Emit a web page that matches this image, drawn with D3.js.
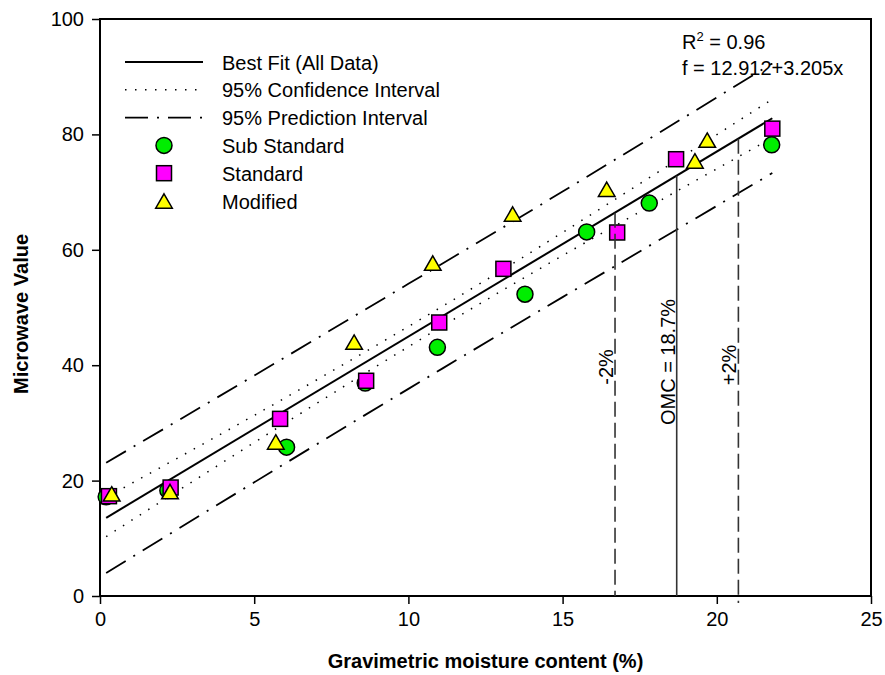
<!DOCTYPE html>
<html>
<head>
<meta charset="utf-8">
<script src="https://cdn.jsdelivr.net/npm/d3@7"></script>
<style>
  body { margin: 0; background: #fff; }
  text { font-family: Arial, "Liberation Sans", sans-serif; }
</style>
</head>
<body>
<script>
// data
var subX = [0.2, 2.2, 6.05, 8.6, 10.94, 13.78, 15.78, 17.81, 21.78];
var subY = [17.2, 18.3, 25.8, 36.9, 43.1, 52.3, 63.1, 68.1, 78.2];

var stdX = [0.29, 2.29, 5.84, 8.63, 11.0, 13.08, 16.77, 18.68, 21.8];
var stdY = [17.3, 18.8, 30.7, 37.3, 47.4, 56.7, 63.0, 75.7, 81.0];

var modX = [0.38, 2.27, 5.7, 8.24, 10.79, 13.38, 16.43, 19.29, 19.69];
var modY = [17.7, 18.1, 26.7, 44.0, 57.7, 66.2, 70.5, 75.4, 79.0];

// best fit line end points
var fitX = [0.2, 21.8];
var fitY = [13.55, 82.8];

// confidence / prediction bands read at a few x positions
var bandX   = [0.2, 5, 10, 15, 21.8];
var ciUpper = [17.1, 31.3, 46.7, 63.0, 86.1];
var ciLower = [10.3, 26.6, 43.2, 59.0, 79.4];
var piUpper = [23.1, 38.2, 54.1, 70.1, 92.3];
var piLower = [4.0, 19.7, 35.9, 51.8, 73.3];

// vertical OMC markers: x position, top (on the fit line), bottom
var vLabels = ["-2%", "OMC = 18.7%", "+2%"];
var vX      = [16.7, 18.7, 20.7];
var vTop    = [66.4, 72.85, 79.26];
var vBottom = [0, 0, -1.2];

var xTicks = [0, 5, 10, 15, 20, 25];
var yTicks = [0, 20, 40, 60, 80, 100];

var W = 885, H = 675;
var margin = {top: 19, right: 14, bottom: 79, left: 100};

var svg = d3.select("body").append("svg")
    .attr("width", W)
    .attr("height", H);

var x = d3.scaleLinear().domain([0, 25]).range([margin.left, W - margin.right]);
var y = d3.scaleLinear().domain([0, 100]).range([H - margin.bottom, margin.top]);

// axes
var xAxis = svg.append("g")
    .attr("transform", "translate(0," + y(0) + ")")
    .call(d3.axisBottom(x).tickValues(xTicks).tickSize(8).tickPadding(8).tickSizeOuter(0));
var yAxis = svg.append("g")
    .attr("transform", "translate(" + x(0) + ",0)")
    .call(d3.axisLeft(y).tickValues(yTicks).tickSize(8).tickPadding(8).tickSizeOuter(0));

[xAxis, yAxis].forEach(function(g) {
  g.select(".domain").remove();
  g.selectAll(".tick line").attr("stroke", "#000").attr("stroke-width", 1.5);
  g.selectAll(".tick text")
    .style("font-family", "Arial, 'Liberation Sans', sans-serif")
    .style("font-size", "20px")
    .attr("fill", "#000");
});

// frame round the plot
svg.append("rect")
    .attr("x", x(0)).attr("y", y(100))
    .attr("width", x(25) - x(0))
    .attr("height", y(0) - y(100))
    .attr("fill", "none")
    .attr("stroke", "#000")
    .attr("stroke-width", 2);

// axis titles
svg.append("text")
    .attr("x", (x(0) + x(25)) / 2)
    .attr("y", 668)
    .attr("text-anchor", "middle")
    .style("font-size", "20px")
    .style("font-weight", "bold")
    .text("Gravimetric moisture content (%)");

svg.append("text")
    .attr("transform", "translate(28,314) rotate(-90)")
    .attr("text-anchor", "middle")
    .style("font-size", "20px")
    .style("font-weight", "bold")
    .text("Microwave Value");

// regression annotation
var ann = svg.append("text")
    .attr("x", 682).attr("y", 49)
    .style("font-size", "20px");
ann.append("tspan").text("R");
ann.append("tspan").attr("dy", -8).style("font-size", "13px").text("2");
ann.append("tspan").attr("dy", 8).text(" = 0.96");
svg.append("text")
    .attr("x", 682).attr("y", 75)
    .style("font-size", "20px")
    .text("f = 12.912+3.205x");

// bands
var band = d3.line()
    .x(function(d) { return x(d[0]); })
    .y(function(d) { return y(d[1]); })
    .curve(d3.curveNatural);

var dotted = "1.5,8.5";
var dashDot = "23,9,2,9";

[ciUpper, ciLower].forEach(function(arr) {
  svg.append("path")
      .attr("d", band(d3.zip(bandX, arr)))
      .attr("fill", "none")
      .attr("stroke", "#000")
      .attr("stroke-width", 1.5)
      .attr("stroke-dasharray", dotted);
});
[piUpper, piLower].forEach(function(arr) {
  svg.append("path")
      .attr("d", band(d3.zip(bandX, arr)))
      .attr("fill", "none")
      .attr("stroke", "#000")
      .attr("stroke-width", 1.8)
      .attr("stroke-dasharray", dashDot);
});

// best fit
svg.append("path")
    .attr("d", d3.line().x(function(d) { return x(d[0]); }).y(function(d) { return y(d[1]); })(d3.zip(fitX, fitY)))
    .attr("fill", "none")
    .attr("stroke", "#000")
    .attr("stroke-width", 2);

// markers
function drawCircles(xs, ys) {
  svg.append("g").selectAll("circle")
    .data(d3.zip(xs, ys)).join("circle")
      .attr("cx", function(d) { return x(d[0]); })
      .attr("cy", function(d) { return y(d[1]); })
      .attr("r", 8)
      .attr("fill", "#00ee00")
      .attr("stroke", "#000")
      .attr("stroke-width", 1.5);
}
function drawSquares(xs, ys) {
  svg.append("g").selectAll("rect")
    .data(d3.zip(xs, ys)).join("rect")
      .attr("x", function(d) { return x(d[0]) - 7.5; })
      .attr("y", function(d) { return y(d[1]) - 7.5; })
      .attr("width", 15).attr("height", 15)
      .attr("fill", "#ff00ff")
      .attr("stroke", "#000")
      .attr("stroke-width", 1.5);
}
var tri = "M0,-7.2L8.3,7.2L-8.3,7.2Z";
function drawTriangles(xs, ys) {
  svg.append("g").selectAll("path")
    .data(d3.zip(xs, ys)).join("path")
      .attr("transform", function(d) { return "translate(" + x(d[0]) + "," + y(d[1]) + ")"; })
      .attr("d", tri)
      .attr("fill", "#ffff00")
      .attr("stroke", "#000")
      .attr("stroke-width", 1.5);
}
drawCircles(subX, subY);
drawSquares(stdX, stdY);
drawTriangles(modX, modY);

// OMC verticals
vX.forEach(function(v, i) {
  svg.append("line")
      .attr("x1", x(v)).attr("x2", x(v))
      .attr("y1", y(vTop[i])).attr("y2", y(vBottom[i]))
      .attr("stroke", "#333")
      .attr("stroke-width", 1.6)
      .attr("stroke-dasharray", i == 1 ? null : "15,6");
});
var vLabelY = [367, 362, 365];
vLabels.forEach(function(t, i) {
  svg.append("text")
      .attr("transform", "translate(" + (x(vX[i]) - 2) + "," + vLabelY[i] + ") rotate(-90)")
      .attr("text-anchor", "middle")
      .style("font-size", "20px")
      .text(t);
});

// legend
var legendNames = ["Best Fit (All Data)", "95% Confidence Interval", "95% Prediction Interval",
                   "Sub Standard", "Standard", "Modified"];
var lg = svg.append("g");
legendNames.forEach(function(name, i) {
  var ly = 62 + i * 27.8;
  if (i < 3) {
    lg.append("line")
        .attr("x1", 125).attr("x2", 203)
        .attr("y1", ly).attr("y2", ly)
        .attr("stroke", "#000")
        .attr("stroke-width", i == 1 ? 1.5 : (i == 2 ? 1.8 : 2))
        .attr("stroke-dasharray", i == 1 ? dotted : (i == 2 ? dashDot : null));
  } else if (i == 3) {
    lg.append("circle").attr("cx", 164).attr("cy", ly).attr("r", 8)
        .attr("fill", "#00ee00").attr("stroke", "#000").attr("stroke-width", 1.5);
  } else if (i == 4) {
    lg.append("rect").attr("x", 164 - 7.5).attr("y", ly - 7.5).attr("width", 15).attr("height", 15)
        .attr("fill", "#ff00ff").attr("stroke", "#000").attr("stroke-width", 1.5);
  } else {
    lg.append("path").attr("transform", "translate(164," + ly + ")").attr("d", tri)
        .attr("fill", "#ffff00").attr("stroke", "#000").attr("stroke-width", 1.5);
  }
  lg.append("text")
      .attr("x", 222).attr("y", ly + 7.5)
      .style("font-size", "20px")
      .text(name);
});
</script>
</body>
</html>
